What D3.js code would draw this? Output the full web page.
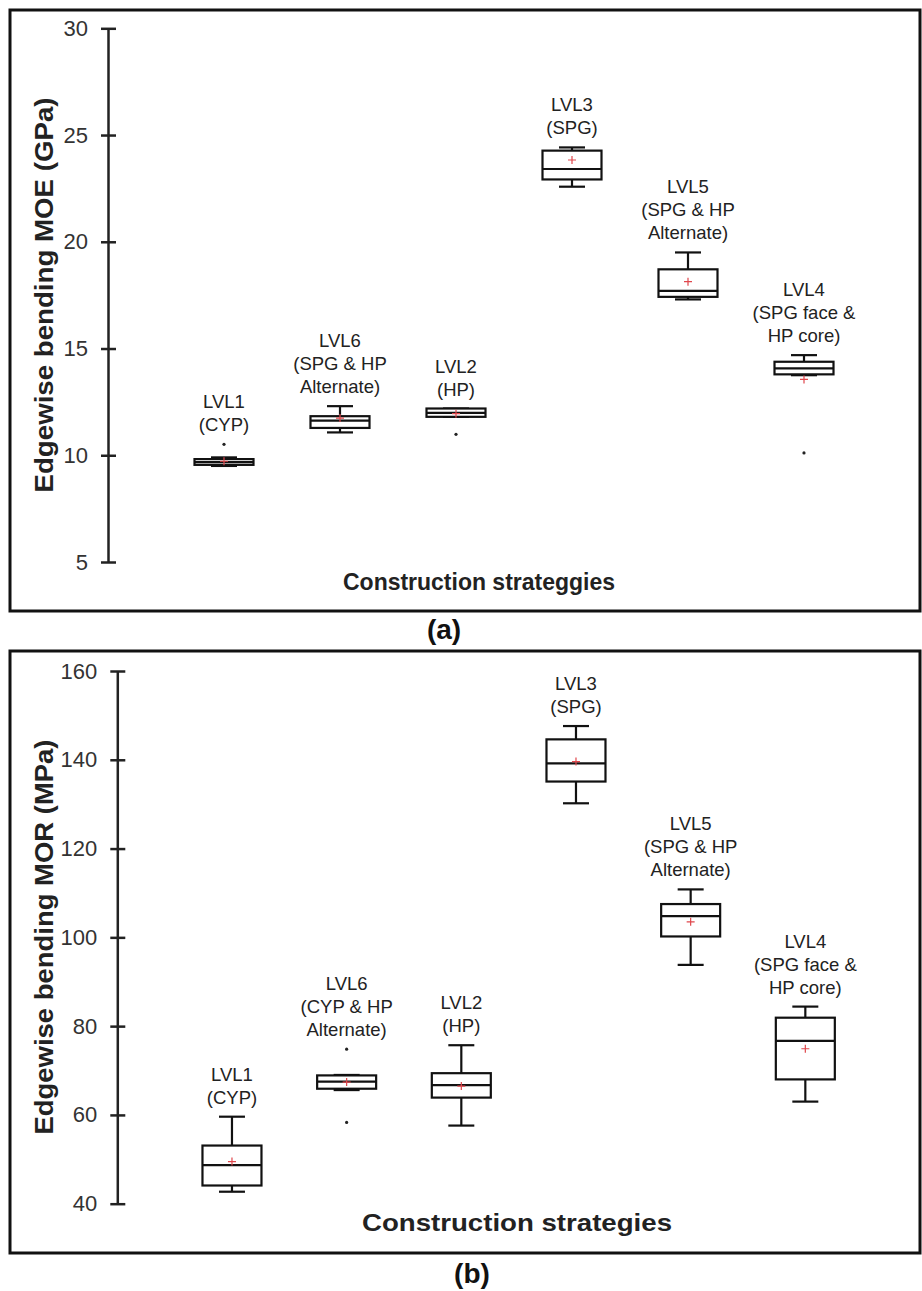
<!DOCTYPE html>
<html>
<head>
<meta charset="utf-8">
<script src="https://cdn.jsdelivr.net/npm/d3@7"></script>
<style>
  body { margin: 0; background: #fff; }
  svg { display: block; font-family: 'Liberation Sans', Arial, sans-serif; }
</style>
</head>
<body>
<svg id="chart" width="922" height="1291"></svg>
<script>
// categories, in plotting order
const categories = ['LVL1', 'LVL6', 'LVL2', 'LVL3', 'LVL5', 'LVL4']

// box labels (multiline)
const labelsMoe = [
  ['LVL1', '(CYP)'],
  ['LVL6', '(SPG & HP', 'Alternate)'],
  ['LVL2', '(HP)'],
  ['LVL3', '(SPG)'],
  ['LVL5', '(SPG & HP', 'Alternate)'],
  ['LVL4', '(SPG face &', 'HP core)']
]
const labelsMor = [
  ['LVL1', '(CYP)'],
  ['LVL6', '(CYP & HP', 'Alternate)'],
  ['LVL2', '(HP)'],
  ['LVL3', '(SPG)'],
  ['LVL5', '(SPG & HP', 'Alternate)'],
  ['LVL4', '(SPG face &', 'HP core)']
]

// (a) edgewise MOE, GPa
const moeMin = [9.50, 11.07, 11.80, 22.58, 17.30, 13.75]
const moeQ1 = [9.55, 11.28, 11.80, 22.92, 17.42, 13.79]
const moeMedian = [9.68, 11.62, 11.99, 23.41, 17.70, 14.07]
const moeQ3 = [9.82, 11.83, 12.19, 24.27, 18.71, 14.38]
const moeMax = [9.90, 12.30, 12.19, 24.42, 19.50, 14.69]
const moeMean = [9.72, 11.74, 11.95, 23.83, 18.13, 13.55]
const moeOutliers = [[10.51], [], [10.98], [], [], [10.11]]
const moeTicks = [5, 10, 15, 20, 25, 30]

// (b) edgewise MOR, MPa
const morMin = [42.7, 65.6, 57.6, 130.2, 93.8, 63.0]
const morQ1 = [44.1, 65.9, 63.9, 135.1, 100.2, 68.0]
const morMedian = [48.7, 67.5, 66.7, 139.2, 104.8, 76.7]
const morQ3 = [53.1, 68.9, 69.4, 144.6, 107.5, 81.9]
const morMax = [59.6, 69.0, 75.7, 147.6, 110.8, 84.4]
const morMean = [49.5, 67.4, 66.5, 139.6, 103.5, 74.9]
const morOutliers = [[], [74.8, 58.3], [], [], [], []]
const morTicks = [40, 60, 80, 100, 120, 140, 160]

const svg = d3.select('#chart')

function buildRows (labels, mins, q1s, meds, q3s, maxs, means, outs) {
  return categories.map((c, i) => ({
    cat: c,
    label: labels[i],
    min: mins[i],
    q1: q1s[i],
    median: meds[i],
    q3: q3s[i],
    max: maxs[i],
    mean: means[i],
    outliers: outs[i]
  }))
}

/**
 * One framed box-plot panel
 */
function drawPanel (cfg) {
  const g = svg.append('g')

  // frame
  g.append('rect')
    .attr('x', cfg.frame[0]).attr('y', cfg.frame[1])
    .attr('width', cfg.frame[2] - cfg.frame[0])
    .attr('height', cfg.frame[3] - cfg.frame[1])
    .attr('fill', 'none')
    .attr('stroke', '#111')
    .attr('stroke-width', 3)

  const y = d3.scaleLinear().domain(cfg.domain).range(cfg.yRange)
  const x = d3.scalePoint().domain(categories)
    .range([cfg.axisX, cfg.frame[2]]).padding(1)

  // y axis
  const axis = g.append('g')
    .attr('transform', `translate(${cfg.axisX},0)`)
    .call(d3.axisLeft(y).tickValues(cfg.ticks)
      .tickSizeInner(7).tickSizeOuter(0).tickPadding(13))
  axis.select('.domain').attr('stroke', '#222').attr('stroke-width', 2.5)
  axis.selectAll('.tick line')
    .attr('x1', 8).attr('stroke', '#222').attr('stroke-width', 2.5)
  axis.selectAll('.tick text')
    .attr('fill', '#333')
    .style('font-size', '22px')
    .style('font-family', "'Liberation Sans', Arial, sans-serif")

  // axis titles
  g.append('text')
    .attr('transform', `translate(53,${cfg.yTitleY}) rotate(-90)`)
    .attr('text-anchor', 'middle')
    .attr('textLength', 395)
    .attr('lengthAdjust', 'spacingAndGlyphs')
    .style('font-size', '26px')
    .style('font-weight', 'bold')
    .attr('fill', '#222')
    .text(cfg.yTitle)

  g.append('text')
    .attr('x', cfg.xTitleX).attr('y', cfg.xTitleY)
    .attr('text-anchor', 'middle')
    .attr('textLength', cfg.xTitleLen)
    .attr('lengthAdjust', 'spacingAndGlyphs')
    .style('font-size', '24px')
    .style('font-weight', 'bold')
    .attr('fill', '#222')
    .text(cfg.xTitle)

  const boxW = 59
  const capW = 26
  const boxes = g.selectAll('.box').data(cfg.rows).join('g')
    .attr('class', 'box')
    .attr('transform', d => `translate(${x(d.cat)},0)`)

  // whiskers
  boxes.append('line')
    .attr('y1', d => y(d.max)).attr('y2', d => y(d.q3))
  boxes.append('line')
    .attr('y1', d => y(d.q1)).attr('y2', d => y(d.min))
  boxes.append('line')
    .attr('x1', -capW / 2).attr('x2', capW / 2)
    .attr('y1', d => y(d.max)).attr('y2', d => y(d.max))
  boxes.append('line')
    .attr('x1', -capW / 2).attr('x2', capW / 2)
    .attr('y1', d => y(d.min)).attr('y2', d => y(d.min))
  boxes.selectAll('line')
    .attr('stroke', '#111').attr('stroke-width', 2.2)

  boxes.append('rect')
    .attr('x', -boxW / 2).attr('width', boxW)
    .attr('y', d => y(d.q3))
    .attr('height', d => Math.max(y(d.q1) - y(d.q3), 1))
    .attr('fill', '#fff')
    .attr('stroke', '#111')
    .attr('stroke-width', 2.2)

  boxes.append('line')
    .attr('x1', -boxW / 2).attr('x2', boxW / 2)
    .attr('y1', d => y(d.median)).attr('y2', d => y(d.median))
    .attr('stroke', '#111').attr('stroke-width', 2.2)

  // mean marker
  boxes.append('path')
    .attr('d', d => `M-4,${y(d.mean)}h8M0,${y(d.mean) - 4}v8`)
    .attr('stroke', '#e0474c').attr('stroke-width', 1.2)

  // outliers
  boxes.selectAll('circle').data(d => d.outliers).join('circle')
    .attr('r', 1.6).attr('cy', v => y(v)).attr('fill', '#222')

  // labels above each box
  boxes.append('text')
    .attr('text-anchor', 'middle')
    .attr('fill', '#222')
    .style('font-size', '18.5px')
    .each(function (d) {
      const top = d3.max([d.max, ...d.outliers])
      const last = y(top) - 13
      const n = d.label.length
      d3.select(this).selectAll('tspan').data(d.label).join('tspan')
        .attr('x', 0)
        .attr('y', (t, i) => last - (n - 1 - i) * 23)
        .text(t => t)
    })

  // panel letter
  svg.append('text')
    .attr('x', cfg.letterX).attr('y', cfg.letterY)
    .attr('text-anchor', 'middle')
    .style('font-size', '28px')
    .style('font-weight', 'bold')
    .attr('fill', '#111')
    .text(cfg.letter)
}

drawPanel({
  rows: buildRows(labelsMoe, moeMin, moeQ1, moeMedian, moeQ3, moeMax, moeMean, moeOutliers),
  frame: [10, 10, 920, 611],
  axisX: 108,
  domain: [5, 30],
  yRange: [562, 28.3],
  ticks: moeTicks,
  yTitle: 'Edgewise bending MOE (GPa)',
  yTitleY: 295,
  xTitle: 'Construction strateggies',
  xTitleX: 479,
  xTitleY: 590,
  xTitleLen: 272,
  letter: '(a)',
  letterX: 444,
  letterY: 639
})

drawPanel({
  rows: buildRows(labelsMor, morMin, morQ1, morMedian, morQ3, morMax, morMean, morOutliers),
  frame: [10, 651, 920, 1253],
  axisX: 117.3,
  domain: [40, 160],
  yRange: [1203.7, 671],
  ticks: morTicks,
  yTitle: 'Edgewise bending MOR (MPa)',
  yTitleY: 937,
  xTitle: 'Construction strategies',
  xTitleX: 517,
  xTitleY: 1231,
  xTitleLen: 310,
  letter: '(b)',
  letterX: 472,
  letterY: 1283
})
</script>
</body>
</html>
